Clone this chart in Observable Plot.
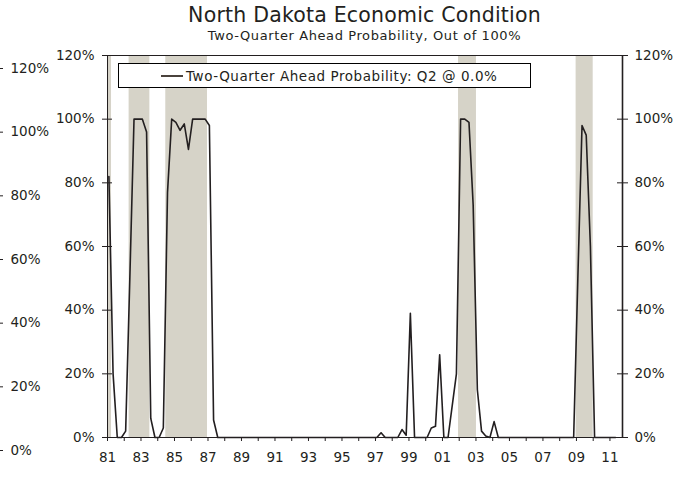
<!DOCTYPE html>
<html>
<head>
<meta charset="utf-8">
<script src="https://cdn.jsdelivr.net/npm/d3@7"></script>
<script src="https://cdn.jsdelivr.net/npm/@observablehq/plot@0.6"></script>
<style>
  html, body { margin: 0; padding: 0; background: #fff; }
  #wrap { position: relative; width: 694px; height: 487px; font-family: "DejaVu Sans", sans-serif; color: #231f20; }
  #title { position: absolute; left: 107px; width: 515px; top: 3px; text-align: center; font-size: 20.5px; line-height: 24px; letter-spacing: 0.2px; }
  #subtitle { position: absolute; left: 107px; width: 515px; top: 28px; text-align: center; font-size: 13px; line-height: 16px; letter-spacing: 0.6px; }
  #legend { position: absolute; left: 118px; top: 63px; width: 411px; height: 23px; border: 1px solid #000; background: #fff; box-sizing: content-box; }
  #legend .sw { position: absolute; left: 42px; top: 11px; width: 22px; height: 0; border-top: 2px solid #4a423c; }
  #legend .lb { position: absolute; left: 67px; top: 0; line-height: 24px; font-size: 13.5px; letter-spacing: 0.55px; white-space: nowrap; }
</style>
</head>
<body>
<div id="wrap">
  <div id="chart"></div>
  <div id="title">North Dakota Economic Condition</div>
  <div id="subtitle">Two-Quarter Ahead Probability, Out of 100%</div>
  <div id="legend"><div class="sw"></div><div class="lb">Two-Quarter Ahead Probability: Q2 @ 0.0%</div></div>
</div>
<script>
// Quarterly series starting 1981 Q1 (values in %)
const startYear = 1981;
const probability = [
  82, 20, 0, 0, 2, 50, 100, 100, 100, 96, 6, 0, 0, 3, 77, 100,
  99, 96.5, 98.5, 90.5, 100, 100, 100, 100, 98, 5.5, 0, 0, 0, 0, 0, 0,
  0, 0, 0, 0, 0, 0, 0, 0, 0, 0, 0, 0, 0, 0, 0, 0,
  0, 0, 0, 0, 0, 0, 0, 0, 0, 0, 0, 0, 0, 0, 0, 0,
  0, 1.5, 0, 0, 0, 0, 2.5, 0.7, 39, 0, 0, 0, 0, 3, 3.5, 26,
  0, 0, 10, 20, 100, 100, 99, 73, 15, 2, 0.5, 0, 5, 0, 0, 0,
  0, 0, 0, 0, 0, 0, 0, 0, 0, 0, 0, 0, 0, 0, 0, 0,
  50, 98, 95, 60, 0, 0, 0, 0, 0, 0
];
// Recession shading (decimal years)
const recessionStart = [1981.0, 1982.29, 1984.48, 2001.96, 2008.98];
const recessionEnd   = [1981.24, 1983.53, 1986.97, 2003.03, 2010.0];
// Axis ticks
const yearTicks = d3.range(1981, 2012);
const yTicks = [0, 20, 40, 60, 80, 100, 120];

const series = probability.map((v, i) => ({ t: startYear + i / 4 + 1 / 12, v }));
const recessions = recessionStart.map((s, i) => ({ s, e: recessionEnd[i] }));

const ink = "#231f20";
const fs = 13.5;
const ls = { letterSpacing: "0.6px" };
const chart = Plot.plot({
  width: 694,
  height: 487,
  marginLeft: 107,
  marginRight: 72,
  marginTop: 55,
  marginBottom: 50,
  style: { fontFamily: "DejaVu Sans, sans-serif", fontSize: "13.5px", color: ink, background: "#fff", overflow: "visible" },
  x: { domain: [1981, 2011.75], axis: null },
  y: { domain: [0, 120], axis: null },
  marks: [
    Plot.rect(recessions, { x1: "s", x2: "e", fill: "#d6d3c8" }),
    Plot.line(series, { x: "t", y: "v", stroke: ink, strokeWidth: 1.6 }),
    Plot.frame({ stroke: ink, strokeWidth: 1 }),
    Plot.ruleX([2011.75], { stroke: ink, strokeWidth: 1.6 }),
    // x axis
    Plot.axisX({ ticks: yearTicks, tickSize: 4, tickPadding: 11, tickFormat: d => d % 2 === 1 ? String(d).slice(2) : "", stroke: ink, fill: ink, label: null, fontSize: fs, style: ls }),
    // left axis (crossing ticks)
    Plot.axisY({ anchor: "left", ticks: yTicks, tickSize: 5, tickPadding: 8, tickFormat: d => d + "%", stroke: ink, fill: ink, label: null, fontSize: fs, style: ls }),
    Plot.ruleY(yTicks, { y: d => d, insetRight: 510, stroke: ink }),
    // right axis (crossing ticks)
    Plot.axisY({ anchor: "right", ticks: yTicks, tickSize: 5, tickPadding: 7, tickFormat: d => d + "%", stroke: ink, fill: ink, label: null, fontSize: fs, style: ls }),
    Plot.ruleY(yTicks, { y: d => d, insetLeft: 510, stroke: ink }),
    // ghost outer left axis
    Plot.ruleY(yTicks, { y: d => d, insetRight: 512, dx: -107, dy: 13, stroke: ink }),
    Plot.text(yTicks, { y: d => d, text: d => d + "%", frameAnchor: "left", dx: -97, dy: 13, textAnchor: "start", fill: ink, fontSize: fs, style: ls })
  ]
});
document.getElementById("chart").appendChild(chart);
</script>
</body>
</html>
